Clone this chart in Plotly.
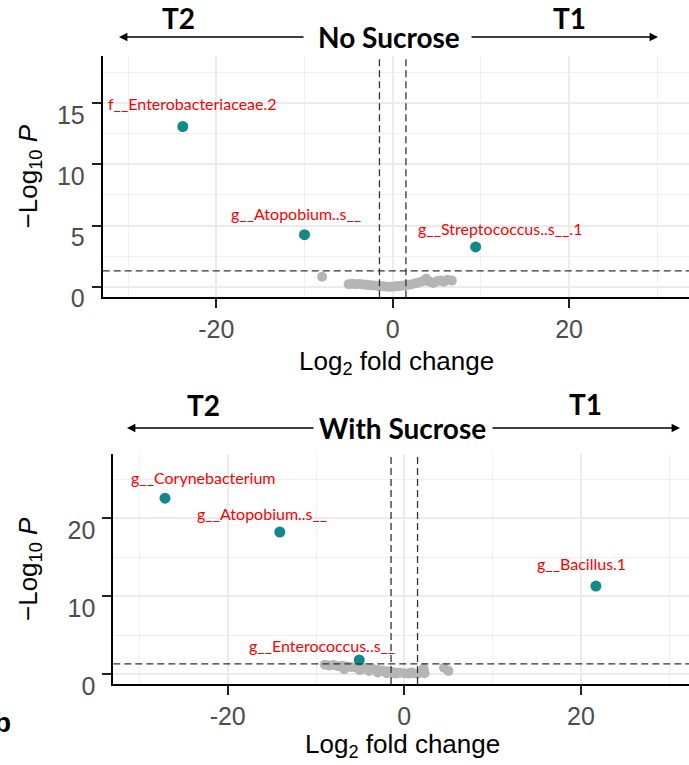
import plotly.graph_objects as go

# ---------------- data ----------------
# Panel A: No Sucrose
top_sig_names = ["f__Enterobacteriaceae.2", "g__Atopobium..s__", "g__Streptococcus..s__.1"]
top_sig_lfc = [-23.8, -10.0, 9.4]
top_sig_logp = [13.1, 4.25, 3.25]

top_ns_lfc = [-8.0, -5.0, -4.6, -4.2, -3.8, -3.4, -3.0, -2.6, -2.2, -1.8, -1.4, -1.0, -0.6,
              -0.2, 0.2, 0.6, 1.0, 1.4, 1.8, 2.2, 2.6, 3.0, 3.4, 3.8, 4.2, 4.6, 5.0, 5.4,
              5.8, 6.2, 6.7]
top_ns_logp = [0.82, 0.2, 0.25, 0.2, 0.22, 0.18, 0.15, 0.12, 0.1, 0.08, 0.05, 0.03, 0.0,
               0.0, 0.02, 0.05, 0.08, 0.12, 0.15, 0.2, 0.28, 0.35, 0.45, 0.65, 0.4, 0.3,
               0.45, 0.5, 0.4, 0.55, 0.5]

# Panel B: With Sucrose
bot_sig_names = ["g__Corynebacterium", "g__Atopobium..s__", "g__Bacillus.1", "g__Enterococcus..s__"]
bot_sig_lfc = [-27.1, -14.1, 21.7, -5.1]
bot_sig_logp = [22.6, 18.25, 11.3, 1.8]

bot_ns_lfc = [-9.0, -8.5, -8.0, -7.5, -7.0, -6.5, -6.0, -5.5, -4.5, -4.0, -3.5, -3.0, -2.5,
              -2.0, -1.5, -1.0, -0.5, 0.0, 0.5, 1.0, 1.5, 2.0, 2.2, 2.3, -6.8, -5.0, -4.0,
              -3.0, -2.0, -1.0, 0.8, 4.5, 5.0]
bot_ns_logp = [1.2, 1.1, 1.15, 1.0, 1.05, 0.95, 0.9, 0.85, 0.8, 0.7, 0.6, 0.5, 0.45,
               0.35, 0.3, 0.2, 0.15, 0.1, 0.05, 0.1, 0.05, 0.3, 0.7, 0.1, 0.6, 0.5, 0.4,
               0.2, 0.1, 0.05, 0.2, 0.8, 0.4]

p_cutoff_logp = 1.3
fc_cutoff = 1.5

top_xticks = [-20, 0, 20]
top_yticks = [0, 5, 10, 15]
bot_xticks = [-20, 0, 20]
bot_yticks = [0, 10, 20]

# label pixel offsets (layout only)
top_label_shift = [(10, 23), (-9, 21), (24, 18)]
bot_label_shift = [(38, 21), (-18, 19), (-14, 23), (-37, 15)]

# ---------------- figure ----------------
W, H = 689, 765
TEAL = "#11898a"
GREY = "#b5b5b5"

fig = go.Figure()
fig.add_trace(go.Scatter(x=top_ns_lfc, y=top_ns_logp, mode="markers",
                         marker=dict(color=GREY, size=10), xaxis="x", yaxis="y",
                         showlegend=False, hoverinfo="skip"))
fig.add_trace(go.Scatter(x=top_sig_lfc, y=top_sig_logp, mode="markers",
                         marker=dict(color=TEAL, size=11), xaxis="x", yaxis="y",
                         showlegend=False, text=top_sig_names))
fig.add_trace(go.Scatter(x=bot_ns_lfc, y=bot_ns_logp, mode="markers",
                         marker=dict(color=GREY, size=10), xaxis="x2", yaxis="y2",
                         showlegend=False, hoverinfo="skip"))
fig.add_trace(go.Scatter(x=bot_sig_lfc, y=bot_sig_logp, mode="markers",
                         marker=dict(color=TEAL, size=11), xaxis="x2", yaxis="y2",
                         showlegend=False, text=bot_sig_names))

tickfont = dict(family="Liberation Sans, Arial, sans-serif", size=25, color="#4D4D4D")
axis_common = dict(showline=True, linecolor="black", linewidth=2, ticks="outside",
                   ticklen=9, tickwidth=2, tickcolor="#222", tickfont=tickfont,
                   showgrid=True, gridcolor="#EBEBEB", gridwidth=1.6, zeroline=False,
                   fixedrange=True, automargin=False)


def px2x(px):
    return px / W


def px2y(py):
    return 1 - py / H


# pixel geometry of the two panels
T_left, T_right, T_top, T_bot = 102.7, 689, 55.5, 297.3
B_left, B_right, B_top, B_bot = 113.3, 689, 454, 684
T_x0px, T_xppu = 392.7, 8.82
T_y0px, T_yppu = 286.7, 12.23
B_x0px, B_xppu = 404.3, 8.83
B_y0px, B_yppu = 674.0, 7.78

fig.update_layout(
    width=W, height=H, autosize=False,
    margin=dict(l=0, r=0, t=0, b=0, pad=0, autoexpand=False),
    paper_bgcolor="white", plot_bgcolor="white",
    xaxis=dict(axis_common, domain=[px2x(T_left), px2x(T_right)],
               range=[(T_left - T_x0px) / T_xppu, (T_right - T_x0px) / T_xppu],
               tickvals=top_xticks, ticktext=[str(v) for v in top_xticks],
               minor=dict(dtick=10, tick0=0, showgrid=True, gridcolor="#EFEFEF", gridwidth=0.9),
               anchor="y", ticklabelstandoff=0),
    yaxis=dict(axis_common, domain=[px2y(T_bot), px2y(T_top)],
               range=[(T_y0px - T_bot) / T_yppu, (T_y0px - T_top) / T_yppu],
               tickvals=top_yticks, ticktext=[str(v) for v in top_yticks],
               minor=dict(dtick=2.5, tick0=0, showgrid=True, gridcolor="#EFEFEF", gridwidth=0.9),
               anchor="x", ticklabelshift=12, ticklabelstandoff=2),
    xaxis2=dict(axis_common, domain=[px2x(B_left), px2x(B_right)],
                range=[(B_left - B_x0px) / B_xppu, (B_right - B_x0px) / B_xppu],
                tickvals=bot_xticks, ticktext=[str(v) for v in bot_xticks],
                minor=dict(dtick=10, tick0=0, showgrid=True, gridcolor="#EFEFEF", gridwidth=0.9),
                anchor="y2", ticklabelstandoff=0),
    yaxis2=dict(axis_common, domain=[px2y(B_bot), px2y(B_top)],
                range=[(B_y0px - B_bot) / B_yppu, (B_y0px - B_top) / B_yppu],
                tickvals=bot_yticks, ticktext=[str(v) for v in bot_yticks],
                minor=dict(dtick=5, tick0=0, showgrid=True, gridcolor="#EFEFEF", gridwidth=0.9),
                anchor="x2", ticklabelshift=12, ticklabelstandoff=2),
)

# cutoff lines
dash_line = dict(color="#333333", width=1.3, dash="7px,4px")
for xa, ya in (("x", "y"), ("x2", "y2")):
    fig.add_shape(type="line", xref=f"{xa} domain", yref=ya, x0=0, x1=1,
                  y0=p_cutoff_logp, y1=p_cutoff_logp, line=dash_line, layer="above")
    for v in (-fc_cutoff, fc_cutoff):
        fig.add_shape(type="line", xref=xa, yref=f"{ya} domain", x0=v, x1=v,
                      y0=0, y1=1, line=dash_line, layer="above")

label_font = dict(family="Lato, sans-serif", size=16, color="#ff0000")
for name, xv, yv, (dx, dy) in zip(top_sig_names, top_sig_lfc, top_sig_logp, top_label_shift):
    fig.add_annotation(x=xv, y=yv, xref="x", yref="y", text=name, showarrow=False,
                       xanchor="center", yanchor="middle",
                       xshift=dx, yshift=dy, font=label_font)
for name, xv, yv, (dx, dy) in zip(bot_sig_names, bot_sig_lfc, bot_sig_logp, bot_label_shift):
    fig.add_annotation(x=xv, y=yv, xref="x2", yref="y2", text=name, showarrow=False,
                       xanchor="center", yanchor="middle",
                       xshift=dx, yshift=dy, font=label_font)


def paper_text(text, cx, cy, font, **kw):
    fig.add_annotation(x=px2x(cx), y=px2y(cy), xref="paper", yref="paper", text=text,
                       showarrow=False, xanchor="center", yanchor="middle", font=font, **kw)


# axis titles
title_font = dict(family="Liberation Sans, Arial, sans-serif", size=26, color="black")
paper_text("Log<sub>2</sub> fold change", 396, 362, title_font)
paper_text("Log<sub>2</sub> fold change", 402, 745, title_font)
paper_text("\u2212Log<sub>10</sub> <i>P</i>", 29, (T_top + T_bot) / 2, title_font, textangle=-90)
paper_text("\u2212Log<sub>10</sub> <i>P</i>", 29, (B_top + B_bot) / 2, title_font, textangle=-90)

# headers with arrows
head_font = dict(family="Lato, sans-serif", size=28, color="black")
headers = [
    ("T2", 178, 18), ("T1", 569, 18), ("No Sucrose", 389, 37),
    ("T2", 203, 405), ("T1", 585, 404), ("With Sucrose", 402, 428),
]
for txt, hx, hy in headers:
    paper_text(f"<b>{txt}</b>", hx, hy, head_font)

arrows = [  # (head_x, tail_x, y)
    (119, 305, 37), (658, 470, 37),
    (127, 315, 428), (680, 491, 428),
]
for hx, tx, ay in arrows:
    fig.add_annotation(x=px2x(hx), y=px2y(ay), xref="paper", yref="paper", text="",
                       showarrow=True, ax=tx - hx, ay=0, arrowhead=2, arrowsize=1.2,
                       arrowwidth=1.4, arrowcolor="black", standoff=0)

# panel letter (partially cut off at the left edge)
paper_text("<b>b</b>", 2, 722, dict(family="Liberation Sans, Arial", size=28, color="black"))

fig.write_html("out.html", config={"displayModeBar": False},
               post_script="document.body.style.margin='0';document.body.style.overflow='hidden';")
